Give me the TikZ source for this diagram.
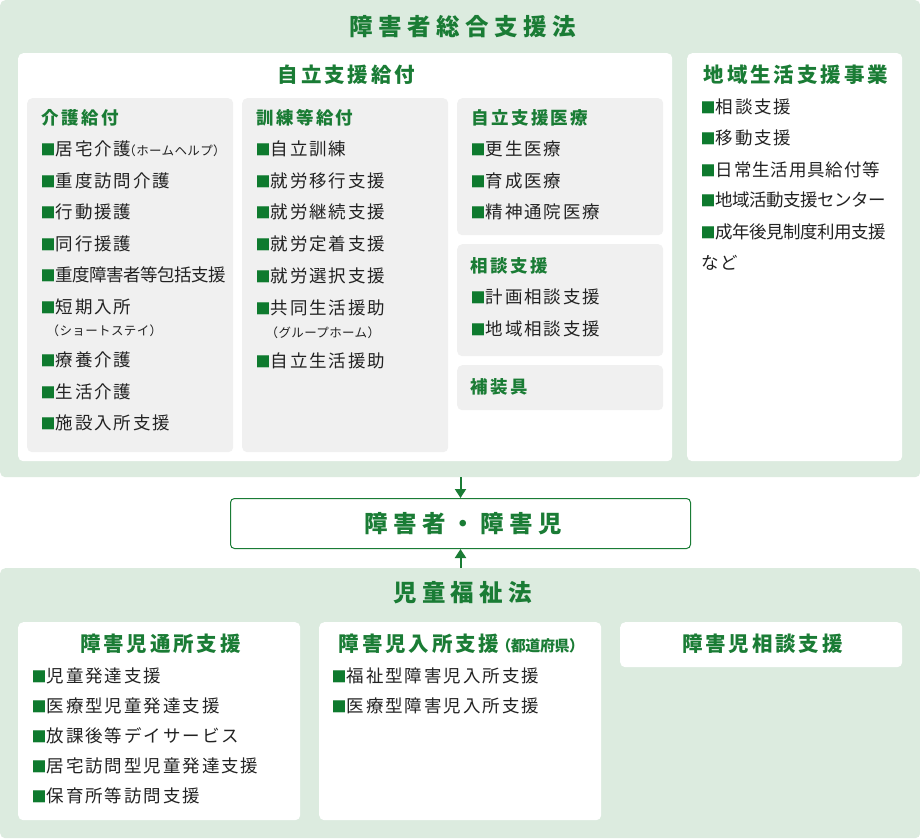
\documentclass[tikz,border=0pt]{standalone}
\usepackage{fontspec}
\usetikzlibrary{arrows.meta}
\setmainfont{Noto Sans CJK JP}
\newfontfamily\trkA[LetterSpace=23]{Noto Sans CJK JP}
\newfontfamily\trkB[LetterSpace=14]{Noto Sans CJK JP}
\newfontfamily\trkC[LetterSpace=11]{Noto Sans CJK JP}
\newfontfamily\trkD[LetterSpace=5]{Noto Sans CJK JP}
\newfontfamily\trkE[LetterSpace=-3]{Noto Sans CJK JP}
\newfontfamily\trkS[LetterSpace=3]{Noto Sans CJK JP}
\newfontfamily\trkP{Noto Sans CJK JP}
\definecolor{pgreen}{HTML}{DCEBDF}
\definecolor{ttl}{HTML}{1A7C35}
\definecolor{bul}{HTML}{0E7A2E}
\definecolor{ink}{HTML}{222222}
\definecolor{gbox}{HTML}{F0F0F0}
\newcommand\bulsq{{\trkP\fontsize{15pt}{15pt}\selectfont\color{bul}■}}
\newcommand\fbig{\fontsize{23.5pt}{27pt}\selectfont\trkA\bfseries}
\newcommand\fsub{\fontsize{20.5pt}{24pt}\selectfont\trkB\bfseries}
\newcommand\fgt{\fontsize{17.5pt}{21pt}\selectfont\trkB\bfseries}
\newcommand\fit{\fontsize{17.5pt}{21pt}\selectfont\trkC}
\newcommand\fitm{\fontsize{17.5pt}{21pt}\selectfont\trkD}
\newcommand\fitt{\fontsize{17.5pt}{21pt}\selectfont\trkE}
\newcommand\fsm{\fontsize{12.5pt}{14pt}\selectfont\trkS}
\begin{document}
\begin{tikzpicture}[x=1pt,y=-1pt,
  panel/.style={fill=pgreen, rounded corners=5pt, inner sep=0pt, anchor=north west},
  wbox/.style={fill=white, rounded corners=5pt, inner sep=0pt, anchor=north west},
  gbx/.style={fill=gbox, rounded corners=5pt, inner sep=0pt, anchor=north west},
  lbl/.style={inner sep=0pt, anchor=west},
  big/.style={lbl, anchor=center, font=\fbig, text=ttl, text height=20.5pt, text depth=3pt, xshift=2.7pt},
  sub/.style={lbl, anchor=center, font=\fsub, text=ttl, text height=17.8pt, text depth=2.7pt, xshift=1.4pt},
  gt/.style={lbl, font=\fgt, text=ttl, text height=15.3pt, text depth=2.2pt},
  itm/.style={lbl, font=\fit, text=ink, text height=15.3pt, text depth=2.2pt},
  itmm/.style={itm, font=\fitm},
  itmt/.style={itm, font=\fitt},
  sml/.style={lbl, font=\fsm, text=ink, text height=11pt, text depth=1.6pt},
  arr/.style={draw=ttl, line width=2pt, -{Triangle[width=11pt,length=9pt]}}
]
\useasboundingbox (0,0) rectangle (920,838);
\fill[white] (0,0) rectangle (920,838);
% panels
\node[panel, minimum width=920pt, minimum height=477pt] (law1) at (0,0) {};
\node[panel, minimum width=920pt, minimum height=270pt] (law2) at (0,568) {};
\node[big] (t1) at (460,27) {障害者総合支援法};
\node[big] (t2) at (460,593) {児童福祉法};
% boxes of law1
\node[wbox, minimum width=654pt, minimum height=408pt] (jiritsu) at (18,53) {};
\node[gbx, minimum width=206pt, minimum height=354pt] (kaigo) at (27,98) {};
\node[gbx, minimum width=206pt, minimum height=354pt] (kunren) at (242,98) {};
\node[gbx, minimum width=206pt, minimum height=137pt] (iryo) at (457,98) {};
\node[gbx, minimum width=206pt, minimum height=112pt] (soudan) at (457,244) {};
\node[gbx, minimum width=206pt, minimum height=45pt] (hosogu) at (457,365) {};
\node[wbox, minimum width=215pt, minimum height=408pt] (chiiki) at (687,53) {};
\node[sub] (st1) at (345,75) {自立支援給付};
\node[sub] (st2) at (794.5,75) {地域生活支援事業};
% kaigo
\node[gt] (kg0) at (41,118) {介護給付};
\node[itm] (kg1) at (40.5,149) {\bulsq 居宅介護\hspace{-8pt}{\fsm （ホームヘルプ）}};
\node[itm] (kg2) at (40.5,180.5) {\bulsq 重度訪問介護};
\node[itm] (kg3) at (40.5,212) {\bulsq 行動援護};
\node[itm] (kg4) at (40.5,243.5) {\bulsq 同行援護};
\node[itmt] (kg5) at (40.5,275) {\bulsq 重度障害者等包括支援};
\node[itm] (kg6) at (40.5,307) {\bulsq 短期入所};
\node[sml] (kg6b) at (46.5,331) {（ショートステイ）};
\node[itm] (kg7) at (40.5,360) {\bulsq 療養介護};
\node[itm] (kg8) at (40.5,392) {\bulsq 生活介護};
\node[itm] (kg9) at (40.5,423) {\bulsq 施設入所支援};
% kunren
\node[gt] (kr0) at (256,118) {訓練等給付};
\node[itm] (kr1) at (255.5,149) {\bulsq 自立訓練};
\node[itm] (kr2) at (255.5,180.5) {\bulsq 就労移行支援};
\node[itm] (kr3) at (255.5,212) {\bulsq 就労継続支援};
\node[itm] (kr4) at (255.5,243.5) {\bulsq 就労定着支援};
\node[itm] (kr5) at (255.5,276) {\bulsq 就労選択支援};
\node[itm] (kr6) at (255.5,308) {\bulsq 共同生活援助};
\node[sml] (kr6b) at (265.5,333) {（グループホーム）};
\node[itm] (kr7) at (255.5,361) {\bulsq 自立生活援助};
% iryo
\node[gt] (ir0) at (471,118) {自立支援医療};
\node[itm] (ir1) at (470.5,149) {\bulsq 更生医療};
\node[itm] (ir2) at (470.5,181) {\bulsq 育成医療};
\node[itm] (ir3) at (470.5,212) {\bulsq 精神通院医療};
% soudan
\node[gt] (sd0) at (470,266) {相談支援};
\node[itm] (sd1) at (470.5,297) {\bulsq 計画相談支援};
\node[itm] (sd2) at (470.5,329) {\bulsq 地域相談支援};
% hosogu
\node[gt] (hs0) at (470,387) {補装具};
% chiiki
\node[itm] (ck1) at (700.5,107) {\bulsq 相談支援};
\node[itm] (ck2) at (700.5,138) {\bulsq 移動支援};
\node[itmm] (ck3) at (700.5,170) {\bulsq 日常生活用具給付等};
\node[itmt] (ck4) at (700.5,200) {\bulsq 地域活動支援センター};
\node[itmt] (ck5) at (700.5,232) {\bulsq 成年後見制度利用支援};
\node[itm] (ck6) at (701,263) {など};
% middle
\node[draw=ttl, line width=1pt, fill=white, rounded corners=4pt, inner sep=0pt, anchor=north west,
      minimum width=460pt, minimum height=50pt] (person) at (230,498) {};
\node[big] (pt) at (person.center) {障害者・障害児};
\draw[arr] (law1.south -| person.north) -- (person.north);
\draw[arr] (law2.north -| person.south) -- (person.south);
% law2 boxes
\node[wbox, minimum width=282pt, minimum height=198pt] (tsusho) at (18,622) {};
\node[wbox, minimum width=282pt, minimum height=198pt] (nyusho) at (319,622) {};
\node[wbox, minimum width=282pt, minimum height=45pt] (jsoudan) at (620,622) {};
\node[sub] (ts0) at (159,644) {障害児通所支援};
\node[sub] (ny0) at (460,644) {障害児入所支援\hspace{-3pt}{\fontsize{15pt}{17pt}\selectfont\trkE\bfseries （都道府県）}};
\node[sub] (js0) at (761,644) {障害児相談支援};
\node[itm] (ts1) at (31.5,676) {\bulsq 児童発達支援};
\node[itm] (ts2) at (31.5,706) {\bulsq 医療型児童発達支援};
\node[itm] (ts3) at (31.5,736) {\bulsq 放課後等デイサービス};
\node[itm] (ts4) at (31.5,766) {\bulsq 居宅訪問型児童発達支援};
\node[itm] (ts5) at (31.5,796) {\bulsq 保育所等訪問支援};
\node[itm] (ny1) at (331.5,676) {\bulsq 福祉型障害児入所支援};
\node[itm] (ny2) at (331.5,706) {\bulsq 医療型障害児入所支援};
\end{tikzpicture}
\end{document}
